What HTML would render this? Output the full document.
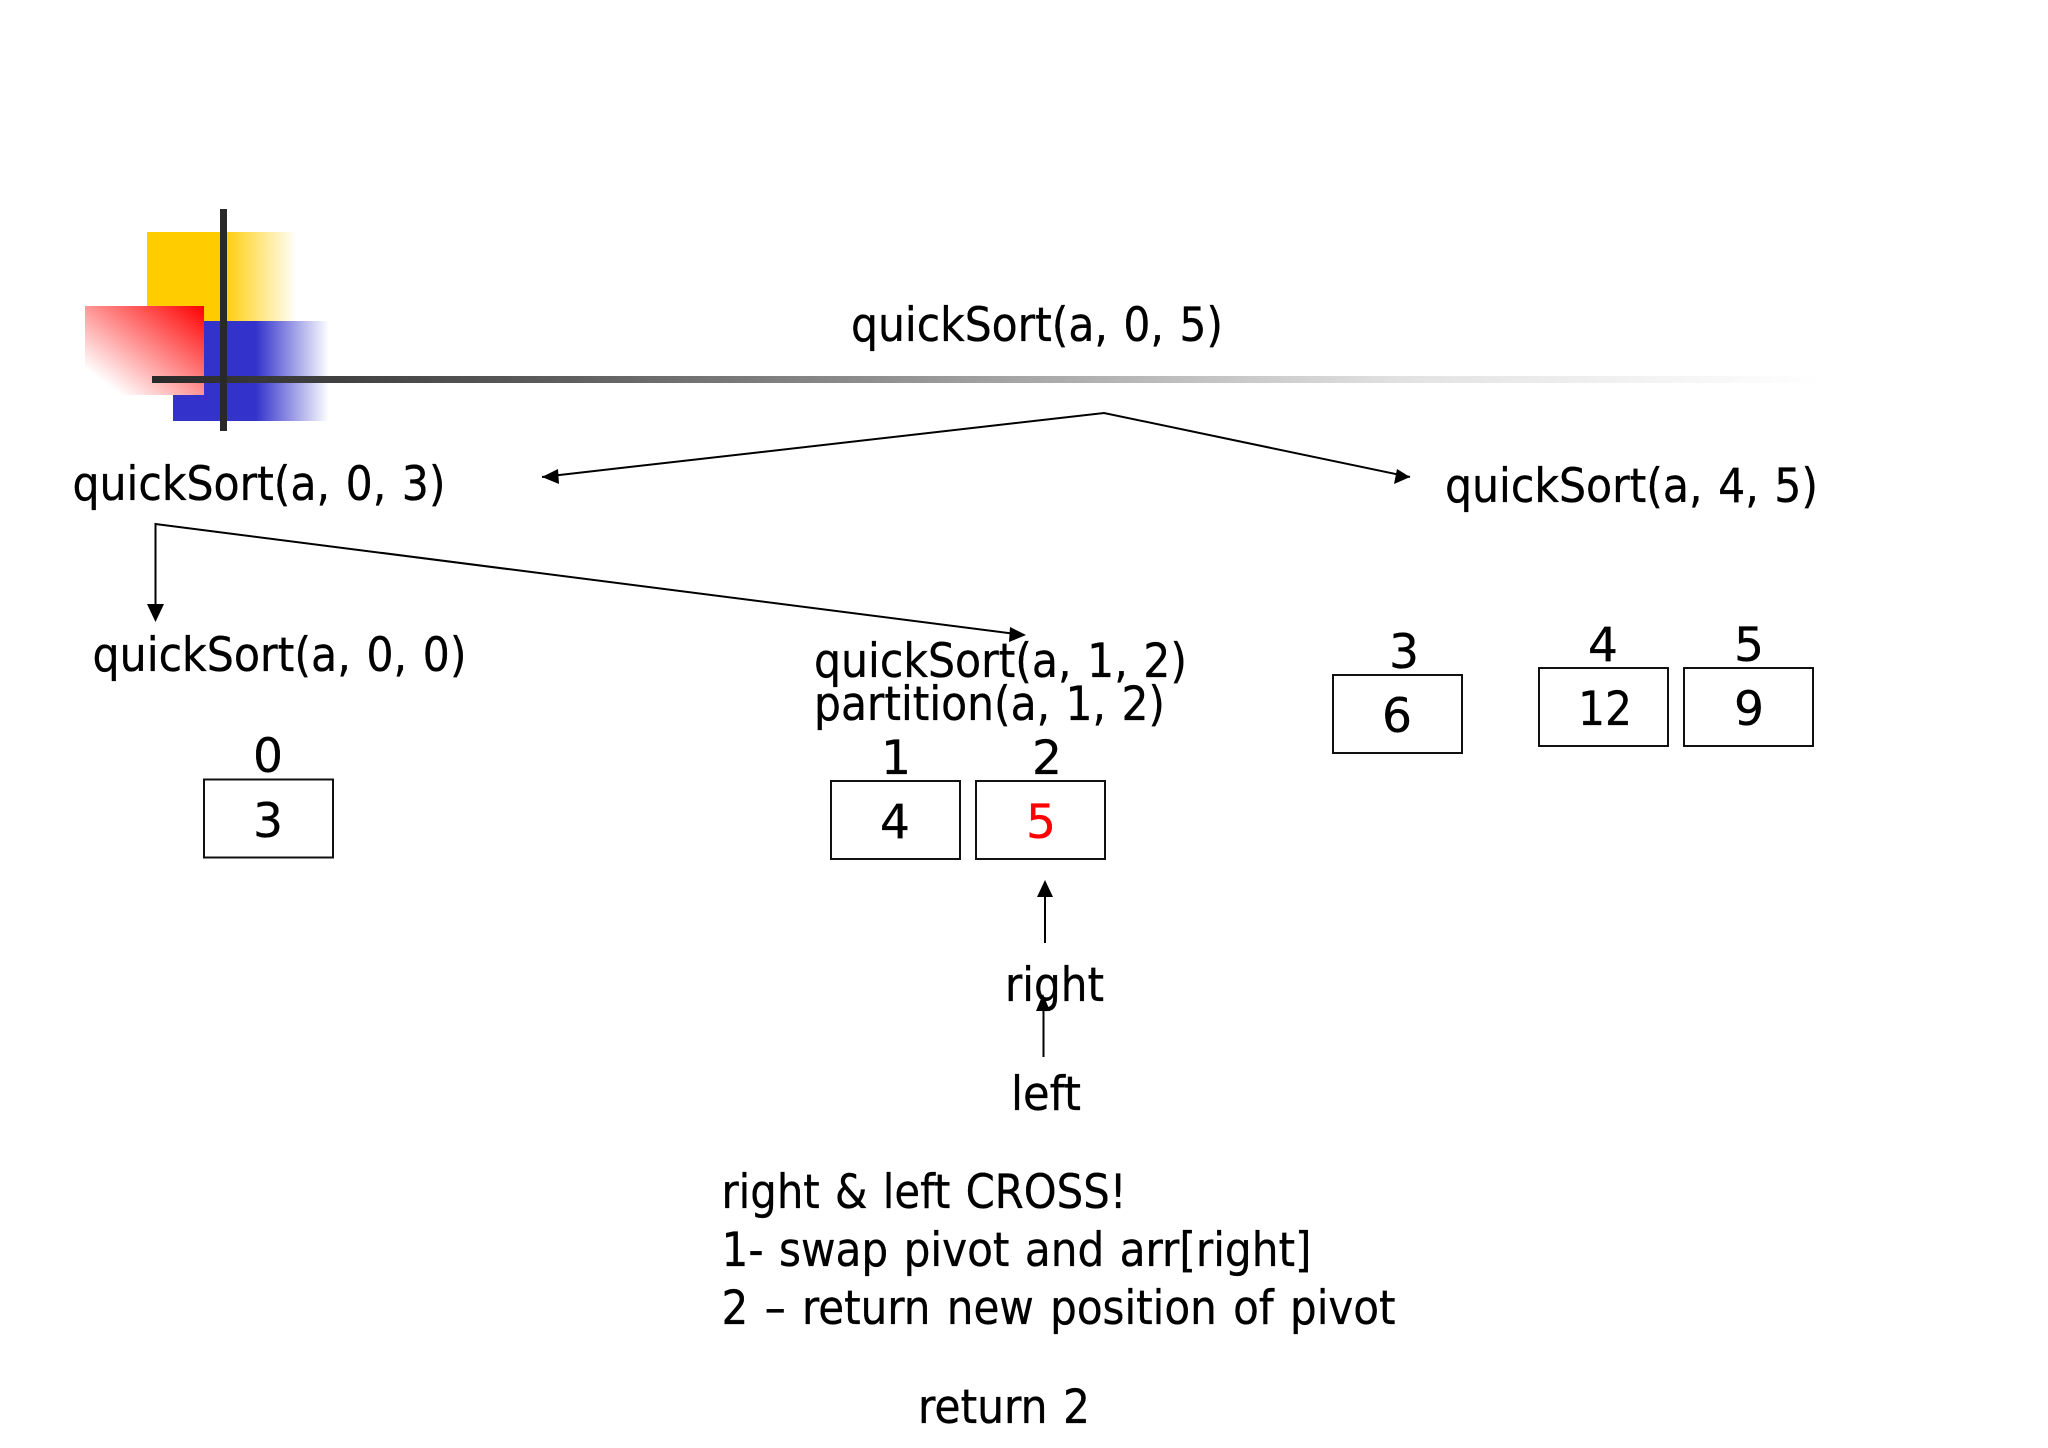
<!DOCTYPE html>
<html><head><meta charset="utf-8"><style>
html,body{margin:0;padding:0;background:#fff;width:2048px;height:1448px;overflow:hidden}
svg{display:block}
text{font-family:"DejaVu Sans Condensed","DejaVu Sans","Liberation Sans",sans-serif;font-size:47px;fill:#000;stroke:#000;stroke-width:.3px;word-spacing:2px}
</style></head><body>
<svg width="2048" height="1448" viewBox="0 0 2048 1448" xmlns="http://www.w3.org/2000/svg">
<defs>
<linearGradient id="y" x1="0" x2="1" y1="0" y2="0"><stop offset="0" stop-color="#ffcc00"/><stop offset=".5" stop-color="#ffcc00"/><stop offset="1" stop-color="#fff"/></linearGradient>
<linearGradient id="b" x1="0" x2="1" y1="0" y2="0"><stop offset="0" stop-color="#3333cc"/><stop offset=".53" stop-color="#3333cc"/><stop offset="1" stop-color="#fff"/></linearGradient>
<linearGradient id="r" x1="1" x2="0" y1="0" y2="1"><stop offset="0" stop-color="#ff0000"/><stop offset=".85" stop-color="#fff"/></linearGradient>
<linearGradient id="h" x1="0" x2="1" y1="0" y2="0"><stop offset="0" stop-color="#292929"/><stop offset=".25" stop-color="#5f5f5f"/><stop offset=".75" stop-color="#e2e2e2"/><stop offset="1" stop-color="#fff"/></linearGradient>
</defs>
<rect x="147" y="232" width="150" height="89" fill="url(#y)"/>
<rect x="173" y="321" width="156" height="100" fill="url(#b)"/>
<rect x="85" y="306" width="119" height="89" fill="url(#r)"/>
<rect x="152" y="376" width="1670" height="7" fill="url(#h)"/>
<rect x="220" y="209" width="7" height="222" fill="#292929"/>

<g fill="none" stroke="#000" stroke-width="2">
<polyline points="542,477 1104,413 1410,477"/>
<polyline points="155.500,619 155.500,524 1024,635"/>
<line x1="1045" y1="943" x2="1045" y2="890"/>
<line x1="1043.500" y1="1057" x2="1043.500" y2="1005"/>
<g fill="#fff" stroke="#111" stroke-width="2">
<rect x="204" y="779.500" width="129" height="78"/>
<rect x="831" y="781" width="129" height="78"/>
<rect x="976" y="781" width="129" height="78"/>
<rect x="1333" y="675" width="129" height="78"/>
<rect x="1539" y="668" width="129" height="78"/>
<rect x="1684" y="668" width="129" height="78"/>
</g>
</g>

<text x="851" y="341" textLength="372" lengthAdjust="spacingAndGlyphs">quickSort(a, 0, 5)</text>
<text x="72.500" y="500" textLength="373" lengthAdjust="spacingAndGlyphs">quickSort(a, 0, 3)</text>
<text x="1445" y="502" textLength="373" lengthAdjust="spacingAndGlyphs">quickSort(a, 4, 5)</text>
<text x="92.500" y="671" textLength="374" lengthAdjust="spacingAndGlyphs">quickSort(a, 0, 0)</text>
<text x="814" y="677" textLength="373" lengthAdjust="spacingAndGlyphs">quickSort(a, 1, 2)</text>
<text x="814" y="720" textLength="351" lengthAdjust="spacingAndGlyphs">partition(a, 1, 2)</text>
<text x="253" y="772" textLength="30" lengthAdjust="spacingAndGlyphs">0</text>
<text x="253" y="837" textLength="30" lengthAdjust="spacingAndGlyphs">3</text>
<text x="881" y="774" textLength="30" lengthAdjust="spacingAndGlyphs">1</text>
<text x="1032" y="774" textLength="30" lengthAdjust="spacingAndGlyphs">2</text>
<text x="880" y="838" textLength="30" lengthAdjust="spacingAndGlyphs">4</text>
<text x="1026" y="838" textLength="30" lengthAdjust="spacingAndGlyphs" style="fill:#f00;stroke:#f00">5</text>
<text x="1389" y="668" textLength="30" lengthAdjust="spacingAndGlyphs">3</text>
<text x="1382" y="732" textLength="30" lengthAdjust="spacingAndGlyphs">6</text>
<text x="1588" y="661" textLength="30" lengthAdjust="spacingAndGlyphs">4</text>
<text x="1734" y="661" textLength="30" lengthAdjust="spacingAndGlyphs">5</text>
<text x="1578" y="725" textLength="54" lengthAdjust="spacingAndGlyphs">12</text>
<text x="1734" y="725" textLength="30" lengthAdjust="spacingAndGlyphs">9</text>
<text x="1005" y="1001" textLength="99" lengthAdjust="spacingAndGlyphs">right</text>
<text x="1011" y="1110" textLength="70" lengthAdjust="spacingAndGlyphs">left</text>
<text x="721.500" y="1208" textLength="405" lengthAdjust="spacingAndGlyphs">right &amp; left CROSS!</text>
<text x="721.500" y="1266" textLength="590" lengthAdjust="spacingAndGlyphs">1- swap pivot and arr[right]</text>
<text x="721.500" y="1324" textLength="674" lengthAdjust="spacingAndGlyphs" style="word-spacing:3px">2 – return new position of pivot</text>
<text x="918" y="1423" textLength="172" lengthAdjust="spacingAndGlyphs">return 2</text>

<g fill="#000">
<polygon points="542,477 558,469 559,484"/>
<polygon points="1410,477 1394,484 1397,469"/>
<polygon points="155.500,622 147,604 164,604"/>
<polygon points="1026,635 1009,642 1010,627"/>
<polygon points="1045,880 1037,897 1053,897"/>
<polygon points="1043,994 1036,1011 1050,1011"/>
</g>
</svg>
</body></html>
